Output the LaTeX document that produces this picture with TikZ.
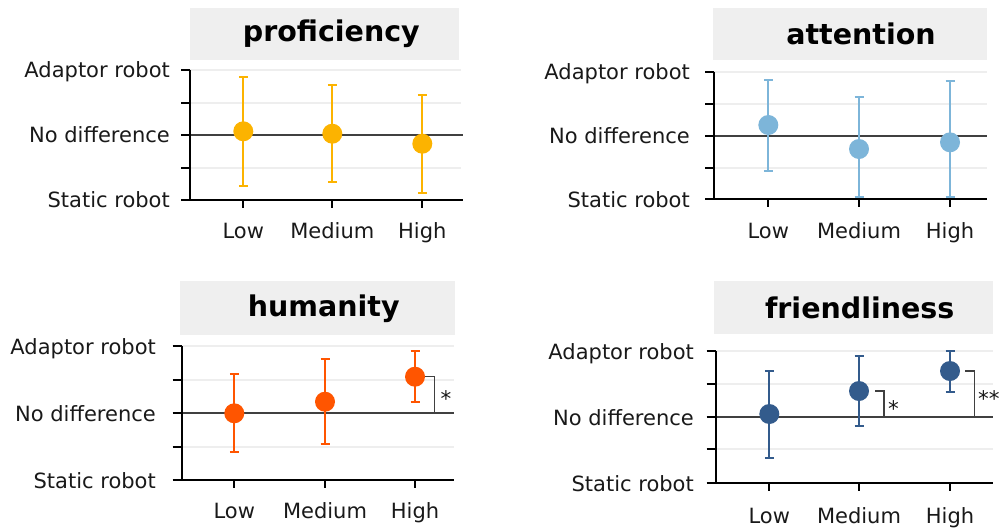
\documentclass[tikz,border=0pt]{standalone}
\usepackage{fontspec}
\setmainfont{DejaVu Sans}
\usepackage{tikz}
\usetikzlibrary{positioning,calc}
\definecolor{profcol}{HTML}{FCB300}
\definecolor{attcol}{HTML}{7DB5D9}
\definecolor{humcol}{HTML}{FF5500}
\definecolor{friendcol}{HTML}{335B8C}
\definecolor{gridgray}{HTML}{EEEEEE}
\definecolor{boxgray}{HTML}{EFEFEF}
\definecolor{zerogray}{HTML}{404040}

\begin{document}
\begin{tikzpicture}[x=1pt,y=-1pt,
  ticklabel/.style={font=\fontsize{21}{25}\selectfont,inner sep=0pt,black!90},
  sig/.style={font=\fontsize{21.5}{25}\selectfont,inner sep=0pt,anchor=base west,black!90},
  titlebox/.style={fill=boxgray,inner sep=0pt},
  titletext/.style={font=\fontsize{28.5}{32}\selectfont\bfseries,inner sep=0pt,anchor=base},
  gridline/.style={gridgray,line width=2pt},
  zeroline/.style={zerogray,line width=2.2pt},
  axisline/.style={black,line width=2.3pt},
  errbar/.style={line width=2.2pt},
  bracket/.style={black!75,line width=1.4pt},
  dot/.style={circle,inner sep=0pt,minimum size=20pt}]
\useasboundingbox (0,0) rectangle (1000,531);

% ---------- proficiency (top left)
% Title
\node[titlebox,minimum width=269.6pt,minimum height=51.7pt] (p-title) at (324.5,34.2) {};
\node[titletext] (p-name) at (331.3,41.7) {proficiency};
% Grid and reference line
\foreach \y in {70,102.7,168} \draw[gridline] (190,\y) -- (461,\y);
\draw[zeroline] (190,135) -- (463,135);
% Axes, ticks and tick labels
\draw[axisline] (190,70) -- (190,200) -- (463,200);
\foreach \y in {70,102.7,135,168,200} \draw[axisline] (181,\y) -- (190,\y);
\foreach \x/\lab [count=\i] in {243.3/Low,332.3/Medium,422.3/High}{
  \draw[axisline] (\x,200) -- (\x,208);
  \node[ticklabel,anchor=base] (p-x\i) at (\x,238.5) {\lab};
}
\foreach \y/\lab [count=\i] in {70/Adaptor robot,135/No difference,200/Static robot}
  \node[ticklabel,anchor=base east] (p-y\i) at (170,\y+7.8) {\lab};
% Means with error bars
\foreach \x/\m/\hi/\lo [count=\i] in {243.3/131.3/77.3/186,332.3/133.7/84.7/182.3,422.3/143.7/94.7/193}{
  \draw[errbar,profcol] (\x-4.5,\hi) -- (\x+4.5,\hi) (\x,\hi) -- (\x,\lo) (\x-4.5,\lo) -- (\x+4.5,\lo);
  \node[dot,fill=profcol] (p\i) at (\x,\m) {};
}

% ---------- attention (top right)
% Title
\node[titlebox,minimum width=274pt,minimum height=51.7pt] (a-title) at (850.3,34.2) {};
\node[titletext] (a-name) at (861,44.3) {attention};
% Grid and reference line
\foreach \y in {71.7,104.3,167.7} \draw[gridline] (714,\y) -- (987,\y);
\draw[zeroline] (714,135.7) -- (987,135.7);
% Axes, ticks and tick labels
\draw[axisline] (714,71.7) -- (714,199.3) -- (987,199.3);
\foreach \y in {71.7,104.3,135.7,167.7,199.3} \draw[axisline] (705,\y) -- (714,\y);
\foreach \x/\lab [count=\i] in {768.3/Low,859/Medium,950/High}{
  \draw[axisline] (\x,199.3) -- (\x,207.3);
  \node[ticklabel,anchor=base] (a-x\i) at (\x,238.3) {\lab};
}
\foreach \y/\lab [count=\i] in {71.7/Adaptor robot,135.7/No difference,199.3/Static robot}
  \node[ticklabel,anchor=base east] (a-y\i) at (690,\y+7.8) {\lab};
% Means with error bars
\foreach \x/\m/\hi/\lo [count=\i] in {768.3/125/80.3/171,859/149/97/197,950/142.3/80.7/197}{
  \draw[errbar,attcol] (\x-4.5,\hi) -- (\x+4.5,\hi) (\x,\hi) -- (\x,\lo) (\x-4.5,\lo) -- (\x+4.5,\lo);
  \node[dot,fill=attcol] (a\i) at (\x,\m) {};
}

% ---------- humanity (bottom left)
% Title
\node[titlebox,minimum width=274.7pt,minimum height=54pt] (h-title) at (317.7,308) {};
\node[titletext] (h-name) at (323.7,316.7) {humanity};
% Grid and reference line
\foreach \y in {346,380,446.7} \draw[gridline] (181.7,\y) -- (454,\y);
\draw[zeroline] (181.7,413.3) -- (454,413.3);
\coordinate (h-z) at (181.7,413.3);
% Axes, ticks and tick labels
\draw[axisline] (181.7,346) -- (181.7,480) -- (454,480);
\foreach \y in {346,380,413.3,446.7,480} \draw[axisline] (172.7,\y) -- (181.7,\y);
\foreach \x/\lab [count=\i] in {234.3/Low,325/Medium,415/High}{
  \draw[axisline] (\x,480) -- (\x,488);
  \node[ticklabel,anchor=base] (h-x\i) at (\x,518.3) {\lab};
}
\foreach \y/\lab [count=\i] in {346/Adaptor robot,413.3/No difference,480/Static robot}
  \node[ticklabel,anchor=base east] (h-y\i) at (156,\y+8.2) {\lab};
% Means with error bars
\foreach \x/\m/\hi/\lo [count=\i] in {234.3/413.3/374.3/452.3,325/401.7/359.3/444.3,415/376.7/351/402.3}{
  \draw[errbar,humcol] (\x-4.5,\hi) -- (\x+4.5,\hi) (\x,\hi) -- (\x,\lo) (\x-4.5,\lo) -- (\x+4.5,\lo);
  \node[dot,fill=humcol] (h\i) at (\x,\m) {};
}
% Significance bracket
\draw[bracket] (h3.east) -- ++(9.3,0) coordinate (h-b) -- (h-b |- h-z);
\node[sig] (h-s) at (440.5,406.5) {*};

% ---------- friendliness (bottom right)
% Title
\node[titlebox,minimum width=278.4pt,minimum height=53.3pt] (f-title) at (853.5,307.7) {};
\node[titletext] (f-name) at (859.7,318.3) {friendliness};
% Grid and reference line
\foreach \y in {351,384,449.3} \draw[gridline] (715.7,\y) -- (992.7,\y);
\draw[zeroline] (715.7,417) -- (992.7,417);
\coordinate (f-z) at (715.7,417);
% Axes, ticks and tick labels
\draw[axisline] (715.7,351) -- (715.7,483.3) -- (992.7,483.3);
\foreach \y in {351,384,417,449.3,483.3} \draw[axisline] (706.7,\y) -- (715.7,\y);
\foreach \x/\lab [count=\i] in {769.3/Low,859/Medium,950/High}{
  \draw[axisline] (\x,483.3) -- (\x,491.3);
  \node[ticklabel,anchor=base] (f-x\i) at (\x,523.3) {\lab};
}
\foreach \y/\lab [count=\i] in {351/Adaptor robot,417/No difference,483.3/Static robot}
  \node[ticklabel,anchor=base east] (f-y\i) at (694,\y+8.2) {\lab};
% Means with error bars
\foreach \x/\m/\hi/\lo [count=\i] in {769.3/414/371.3/457.7,859/391/355.7/425.7,950/371/351.3/391.7}{
  \draw[errbar,friendcol] (\x-4.5,\hi) -- (\x+4.5,\hi) (\x,\hi) -- (\x,\lo) (\x-4.5,\lo) -- (\x+4.5,\lo);
  \node[dot,fill=friendcol] (f\i) at (\x,\m) {};
}
% Significance brackets
\draw[bracket] ($(f2.east)+(5.8,0)$) -- ++(9,0) coordinate (f-b1) -- (f-b1 |- f-z);
\node[sig] (f-s1) at (887.8,416.5) {*};
\draw[bracket] ($(f3.east)+(4.8,0)$) -- ++(9.4,0) coordinate (f-b2) -- (f-b2 |- f-z);
\node[sig] (f-s2) at (978,406.5) {**};

\end{tikzpicture}
\end{document}
